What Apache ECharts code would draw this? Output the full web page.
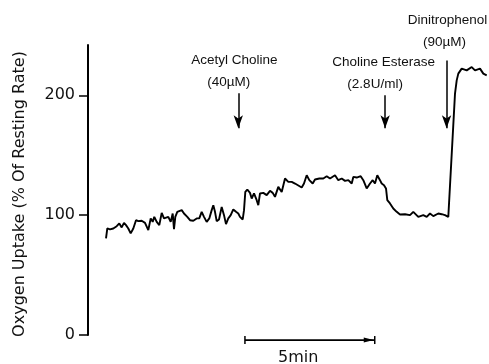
<!DOCTYPE html>
<html>
<head>
<meta charset="utf-8">
<script src="https://cdn.jsdelivr.net/npm/echarts@6/dist/echarts.min.js"></script>
<style>html,body{margin:0;padding:0;background:#fff}#c{width:489px;height:364px}</style>
</head>
<body>
<div id="c"></div>
<script>
// time in minutes from the start of the axis
const time = [0.677,0.726,0.827,0.951,1.079,1.177,1.267,1.353,1.429,1.515,1.605,1.703,1.805,1.891,2.019,2.143,2.267,2.357,2.432,2.492,2.583,2.680,2.771,2.857,2.932,3.019,3.109,3.184,3.233,3.282,3.357,3.432,3.523,3.609,3.733,3.835,3.959,4.086,4.184,4.274,4.361,4.462,4.560,4.650,4.711,4.774,4.838,4.925,5.026,5.113,5.188,5.274,5.365,5.462,5.564,5.650,5.714,5.816,5.865,5.914,5.989,6.090,6.154,6.241,6.342,6.402,6.466,6.590,6.718,6.842,6.944,7.030,7.154,7.282,7.406,7.530,7.658,7.782,7.846,8.034,8.120,8.222,8.320,8.447,8.534,8.696,8.846,8.974,9.098,9.286,9.410,9.538,9.662,9.786,9.914,9.974,10.102,10.252,10.350,10.477,10.602,10.703,10.789,10.876,10.977,11.041,11.128,11.203,11.252,11.353,11.477,11.605,11.729,11.917,12.105,12.229,12.417,12.605,12.733,12.857,12.981,13.169,13.297,13.421,13.545,13.797,13.861,13.921,14.049,14.237,14.425,14.549,14.737,14.861,14.989];
// oxygen uptake, % of resting rate
const uptake = [80.6,88.9,88.1,88.9,90.8,93.1,89.8,93.6,91.7,88.9,84.8,88.9,95.8,95.0,95.3,93.6,87.5,97.3,94.4,98.6,94.4,91.7,101.9,97.3,95.8,98.6,94.4,101.4,88.3,98.6,102.8,101.4,104.2,101.4,98.6,95.8,95.3,97.3,97.3,102.8,98.6,94.4,97.3,104.2,108.3,102.8,95.0,96.4,106.9,100.0,92.5,97.3,100.0,104.8,102.8,101.4,98.6,96.4,104.2,119.4,121.4,118.6,113.9,118.1,112.5,108.3,118.1,118.6,116.7,120.3,118.6,115.3,123.6,119.4,130.6,127.8,127.8,126.4,126.4,123.1,126.4,133.3,129.2,126.4,129.8,130.6,130.6,132.5,130.6,133.3,129.2,130.6,128.6,129.2,126.4,131.9,131.4,132.5,129.2,122.3,126.4,129.2,126.4,133.3,129.2,126.4,125.0,122.3,112.5,109.8,105.6,102.8,100.6,100.8,100.0,102.8,98.6,100.0,98.6,101.4,99.2,101.4,100.8,100.0,98.6,201.4,212.5,218.1,222.3,220.8,223.6,220.8,222.3,218.1,216.7];

const yTicks = [0, 100, 200];

// annotations: time of addition, label lines, arrow top / bottom (value units)
const annoTimes = [5.65, 11.17, 13.48];
const annoLine1 = ['Acetyl Choline', 'Choline Esterase', 'Dinitrophenol'];
const annoLine2 = ['(40\u00b5M)', '(2.8U/ml)', '(90\u00b5M)'];
const arrowTop = [201.7, 200.0, 229.0];
const arrowBottom = [172.5, 172.5, 172.5];
// horizontal shift of each label line relative to its arrow (px), gap above arrow (px)
const line1Shift = [-4, -1.5, 1];
const line2Shift = [-9.5, -10, -2];
const labelGap = [0, 0, 7];

// 5 min scale bar
const scaleStart = 5.9;
const scaleEnd = 10.78;
const scaleLevel = -4.2;
const scaleLabel = '5min';
const scaleLabelAt = 7.9;

const FONT = 'DejaVu Sans';
const NFONT = "'Liberation Sans', Arial, sans-serif";

const chart = echarts.init(document.getElementById('c'), null, {renderer: 'canvas'});

function pad(s) { return s < 0 ? [0, -2 * s, 0, 0] : [0, 0, 0, 2 * s]; }

const markData = annoTimes.map((t, i) => [
  {
    coord: [t, arrowTop[i]],
    label: {
      distance: labelGap[i],
      formatter: '{a|' + annoLine1[i] + '}\n{b|' + annoLine2[i] + '}',
      rich: {
        a: {fontFamily: NFONT, fontSize: 13.5, color: '#111', lineHeight: 22, padding: pad(line1Shift[i])},
        b: {fontFamily: NFONT, fontSize: 13.5, color: '#111', lineHeight: 22, padding: pad(line2Shift[i])}
      }
    }
  },
  {coord: [t, arrowBottom[i]]}
]);

chart.setOption({
  animation: false,
  backgroundColor: '#fff',
  grid: {left: 88, right: 2, top: 45, bottom: 29, containLabel: false},
  xAxis: {type: 'value', min: 0, max: 15, show: false},
  yAxis: {
    type: 'value', min: 0, max: 242, interval: 100,
    name: 'Oxygen Uptake (% Of Resting Rate)',
    nameLocation: 'middle', nameGap: 60, nameRotate: 90,
    nameTextStyle: {fontFamily: FONT, fontSize: 16, color: '#111', padding: [0, 8, 0, 0]},
    axisLine: {show: true, lineStyle: {color: '#000', width: 2}},
    axisTick: {show: true, length: 9, customValues: yTicks, lineStyle: {color: '#000', width: 1.5}},
    axisLabel: {margin: 13, fontFamily: FONT, fontSize: 16, color: '#111', customValues: yTicks},
    splitLine: {show: false}
  },
  series: [{
    type: 'line',
    data: time.map((t, i) => [t, uptake[i]]),
    symbol: 'none',
    lineStyle: {color: '#000', width: 1.9},
    silent: true,
    markLine: {
      silent: true,
      symbol: ['none', 'arrow'],
      symbolSize: [7, 13],
      lineStyle: {color: '#000', width: 1.5, type: 'solid'},
      label: {show: true, position: 'start', align: 'center'},
      data: markData
    }
  }]
});

// scale bar via the chart's own coordinate conversion
const p0 = chart.convertToPixel({gridIndex: 0}, [scaleStart, scaleLevel]);
const p1 = chart.convertToPixel({gridIndex: 0}, [scaleEnd, scaleLevel]);
const pl = chart.convertToPixel({gridIndex: 0}, [scaleLabelAt, scaleLevel]);
const y = p0[1];
chart.setOption({
  graphic: [
    {type: 'line', shape: {x1: p0[0], y1: y, x2: p1[0], y2: y}, style: {stroke: '#000', lineWidth: 1.8}},
    {type: 'line', shape: {x1: p0[0], y1: y - 4, x2: p0[0], y2: y + 4}, style: {stroke: '#000', lineWidth: 1.5}},
    {type: 'line', shape: {x1: p1[0], y1: y - 4, x2: p1[0], y2: y + 4}, style: {stroke: '#000', lineWidth: 1.5}},
    {type: 'polygon', shape: {points: [[p1[0] - 1, y], [p1[0] - 11, y - 2.5], [p1[0] - 11, y + 2.5]]}, style: {fill: '#000'}},
    {type: 'text', x: pl[0], y: y + 10, style: {text: scaleLabel, font: '16px ' + FONT, fill: '#111', align: 'center', verticalAlign: 'top'}}
  ]
});
</script>
</body>
</html>
